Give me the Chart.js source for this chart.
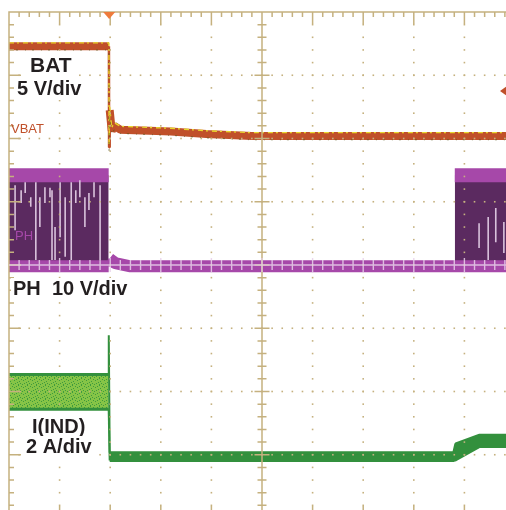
<!DOCTYPE html>
<html>
<head>
<meta charset="utf-8">
<script src="https://cdn.jsdelivr.net/npm/chart.js@4.4.1/dist/chart.umd.min.js"></script>
<style>
  html, body { margin: 0; padding: 0; background: #fff; }
  #wrap { position: relative; width: 506px; height: 510px; overflow: hidden; }
  #scope { position: absolute; left: 0; top: 0; }
</style>
</head>
<body>
<div id="wrap"><canvas id="scope" width="520" height="522"></canvas></div>
<script>
// Scope capture: VBAT, PH and I(IND). Time and amplitude are kept in screen
// divisions (10 x 8, centre = 0) as read off the capture.

// --- VBAT (ch1, 5 V/div)
const vbatT = [0, 1.975, 1.978, 1.99, 2.03, 2.08, 2.2, 3.2, 3.9, 4.8, 10];
const vbatV = [3.46, 3.46, 1.86, 2.45, 2.12, 2.2, 2.14, 2.11, 2.07, 2.04, 2.04];

// --- PH (ch2, 10 V/div): switching bursts drawn as an envelope
const phBurstStart = [0, 8.81];
const phBurstEnd = [1.97, 10];
const phHighLevel = 1.42;
const phLowLevel = -0.02;
const phBaseT = [0, 1.97, 1.985, 2.1, 2.4, 8.81, 10];
const phBaseV = [-0.02, -0.02, 0.1, 0.03, -0.02, -0.02, -0.02];
// bright streaks inside the bursts
const phStreakX = [0.12, 0.24, 0.32, 0.43, 0.53, 0.61, 0.71, 0.81, 0.85, 0.91, 1.01, 1.11, 1.23, 1.32, 1.40, 1.50, 1.58, 1.68, 1.80, 9.29, 9.47, 9.62, 9.78];
const phStreakTop = [1.26, 1.18, 1.31, 1.07, 1.31, 1.07, 1.23, 1.22, 1.18, 0.60, 1.31, 1.07, 1.31, 1.18, 1.34, 1.07, 1.14, 1.31, 1.26, 0.66, 0.76, 0.90, 0.68];
const phStreakBot = [0.55, 0.98, 1.14, 0.92, 0.08, 0.60, 0.98, 1.07, 0.08, 0.08, 0.44, 0.13, 0.08, 0.98, 1.07, 0.60, 0.87, 1.07, 0.08, 0.27, 0.08, 0.36, 0.19];

// --- I(IND) (ch4, 2 A/div): ripple peak and valley
const indT = [0, 1.97, 1.972, 1.99, 8.79, 8.83, 9.3, 10];
const indPeak = [-1.73, -1.73, -1.11, -2.97, -2.97, -2.83, -2.69, -2.69];
const indValley = [-2.28, -2.28, -2.28, -3.09, -3.09, -3.08, -2.87, -2.87];

const TAN = "#c5b17f";
const ORANGE = "#c0502a";
const PURPLE_LIGHT = "#a648a9";
const PURPLE_DARK = "#5b2a60";
const GREEN_DARK = "#33903d";

const pts = (xs, ys) => xs.map((x, i) => ({ x, y: ys[i] }));

const phEnvelope = [];
phBurstStart.forEach((s, i) => {
  phEnvelope.push({ x: s, y: phHighLevel }, { x: phBurstEnd[i], y: phHighLevel }, { x: phBurstEnd[i], y: null });
});
const phStreaks = [];
phStreakX.forEach((x, i) => {
  phStreaks.push({ x, y: phStreakTop[i] }, { x, y: phStreakBot[i] }, { x, y: null });
});

function makePattern(base, dark, dots) {
  const c = document.createElement("canvas");
  c.width = 9; c.height = 7;
  const g = c.getContext("2d");
  g.fillStyle = base; g.fillRect(0, 0, 9, 7);
  g.fillStyle = dark;
  dots.forEach(([x, y]) => g.fillRect(x, y, 1, 1));
  return g.createPattern(c, "repeat");
}
const greenNoise = makePattern("#86c447", "#3f9a3c", [[0,0],[3,1],[7,1],[1,3],[5,2],[8,4],[2,5],[6,5],[4,6],[0,6]]);

const steep = (c) => Math.abs(c.p1.parsed.x - c.p0.parsed.x) < 0.03;

const shiftPlugin = {
  id: "shiftY",
  beforeDatasetDraw(chart, args) {
    const s = chart.data.datasets[args.index].shiftY;
    if (s) { chart.ctx.save(); chart.ctx.translate(0, s); }
  },
  afterDatasetDraw(chart, args) {
    if (chart.data.datasets[args.index].shiftY) chart.ctx.restore();
  },
};

const gridPlugin = {
  id: "scopeGrid",
  afterDatasetsDraw(chart) {
    const { ctx, scales: { x, y } } = chart;
    const X = (v) => x.getPixelForValue(v);
    const Y = (v) => y.getPixelForValue(v);
    ctx.save();
    ctx.fillStyle = TAN;
    // dotted major lines
    for (let i = 1; i < 10; i++) {
      if (i === 5) continue;
      for (let j = 1; j < 40; j++) ctx.fillRect(X(i) - 0.8, Y(-4 + j * 0.2) - 0.8, 1.6, 1.6);
    }
    for (let j = -3; j <= 3; j++) {
      if (j === 0) continue;
      for (let i = 1; i < 50; i++) ctx.fillRect(X(i * 0.2) - 0.8, Y(j) - 0.8, 1.6, 1.6);
    }
    ctx.strokeStyle = TAN;
    ctx.lineWidth = 1.5;
    ctx.beginPath();
    // borders
    ctx.moveTo(X(0), Y(-4)); ctx.lineTo(X(0), Y(4)); ctx.lineTo(X(10), Y(4));
    ctx.moveTo(X(0), Y(-4)); ctx.lineTo(X(10), Y(-4));
    // top / bottom border ticks
    for (let k = 1; k < 50; k++) {
      const len = k % 5 === 0 ? 12 : 5;
      ctx.moveTo(X(k * 0.2), Y(4)); ctx.lineTo(X(k * 0.2), Y(4) + len);
      ctx.moveTo(X(k * 0.2), Y(-4)); ctx.lineTo(X(k * 0.2), Y(-4) - len);
    }
    // left border ticks
    for (let k = 1; k < 40; k++) {
      const len = k % 5 === 0 ? 12 : 5;
      ctx.moveTo(X(0), Y(-4 + k * 0.2)); ctx.lineTo(X(0) + len, Y(-4 + k * 0.2));
    }
    // centre vertical axis
    ctx.moveTo(X(5), Y(4)); ctx.lineTo(X(5), Y(-4));
    for (let k = 1; k < 40; k++) {
      const len = k % 5 === 0 ? 7.5 : 4.5;
      ctx.moveTo(X(5) - len, Y(-4 + k * 0.2)); ctx.lineTo(X(5) + len, Y(-4 + k * 0.2));
    }
    ctx.stroke();
    // centre horizontal axis, shows pale over the PH trace
    ctx.strokeStyle = "rgba(232,208,234,0.85)";
    ctx.lineWidth = 1.4;
    ctx.beginPath();
    ctx.moveTo(X(0), Y(0)); ctx.lineTo(X(10), Y(0));
    for (let k = 1; k < 50; k++) {
      const len = k % 5 === 0 ? 7 : 5;
      ctx.moveTo(X(k * 0.2), Y(0) - len); ctx.lineTo(X(k * 0.2), Y(0) + len);
    }
    ctx.stroke();
    ctx.restore();
  },
};

const labelPlugin = {
  id: "labels",
  afterDraw(chart) {
    const { ctx, scales: { x, y } } = chart;
    ctx.save();
    ctx.textBaseline = "alphabetic";
    const boxed = (text, px, py, font) => {
      ctx.font = font;
      const w = ctx.measureText(text).width;
      ctx.fillStyle = "#fff";
      ctx.fillRect(px - 2, py - 17, w + 4, 22);
      ctx.fillStyle = "#231f20";
      ctx.fillText(text, px, py);
    };
    const bold = 'bold 20px "Liberation Sans", Arial, sans-serif';
    boxed("BAT", 30, 72, 'bold 21px "Liberation Sans", Arial, sans-serif');
    boxed("5 V/div", 17, 95, bold);
    boxed("PH  10 V/div", 13, 295, bold);
    boxed("I(IND)", 32, 433, bold);
    boxed("2 A/div", 26, 453, bold);

    ctx.font = '13px "Liberation Sans Narrow", "Liberation Sans", sans-serif';
    ctx.fillStyle = ORANGE;
    ctx.fillText("VBAT", 11, 133);
    ctx.fillStyle = PURPLE_LIGHT;
    ctx.fillText("PH", 15, 240);

    // trigger position marker (top) and trigger level marker (right)
    const tx = x.getPixelForValue(1.98), ty = y.getPixelForValue(4);
    ctx.fillStyle = "#ee7b3c";
    ctx.beginPath();
    ctx.moveTo(tx - 6, ty); ctx.lineTo(tx + 6, ty); ctx.lineTo(tx, ty + 7); ctx.closePath();
    ctx.fill();
    const ly = y.getPixelForValue(2.75);
    ctx.fillStyle = ORANGE;
    ctx.beginPath();
    ctx.moveTo(500, ly); ctx.lineTo(507, ly - 5); ctx.lineTo(507, ly + 5); ctx.closePath();
    ctx.fill();
    ctx.restore();
  },
};

const common = { pointRadius: 0, tension: 0, spanGaps: false, borderJoinStyle: "bevel" };

new Chart(document.getElementById("scope"), {
  type: "line",
  data: {
    datasets: [
      { ...common, label: "PH burst", order: 9, data: phEnvelope, borderColor: PURPLE_LIGHT, borderWidth: 14,
        backgroundColor: PURPLE_DARK, fill: { value: phLowLevel } },
      { ...common, label: "PH", order: 8, data: pts(phBaseT, phBaseV), borderColor: PURPLE_LIGHT, borderWidth: 12,
        segment: { borderWidth: (c) => (steep(c) ? 3 : 12) } },
      { ...common, label: "PH streaks", order: 7, data: phStreaks, borderColor: "#d9c2dc", borderWidth: 1.6, fill: false },
      { ...common, label: "I(IND) peak", order: 6, data: pts(indT, indPeak), borderColor: GREEN_DARK, borderWidth: 3,
        fill: "+1", segment: {
          borderWidth: (c) => (steep(c) ? 2 : 3),
          backgroundColor: (c) => (c.p0.parsed.x < 1.97 ? greenNoise : GREEN_DARK),
        } },
      { ...common, label: "I(IND) valley", order: 5, data: pts(indT, indValley), borderColor: GREEN_DARK, borderWidth: 3,
        fill: false, segment: { borderWidth: (c) => (steep(c) ? 2 : 3) } },
      { ...common, label: "VBAT", order: 4, data: pts(vbatT, vbatV), borderColor: ORANGE, borderWidth: 8,
        segment: { borderWidth: (c) => (steep(c) ? 2.5 : 8) } },
      { ...common, label: "VBAT hi", order: 3, data: pts(vbatT, vbatV), borderColor: "#e8d62c", borderWidth: 1.4,
        borderDash: [5, 3, 2, 4], shiftY: -3.3 },
      { ...common, label: "VBAT lo", order: 2, data: pts(vbatT, vbatV), borderColor: "rgba(90,90,30,0.7)", borderWidth: 1,
        borderDash: [1, 6, 2, 7], shiftY: 3.8 },
    ],
  },
  options: {
    responsive: false,
    animation: false,
    layout: { padding: { left: 9, top: 12, right: 5, bottom: 4 } },
    plugins: { legend: { display: false }, tooltip: { enabled: false } },
    scales: {
      x: { type: "linear", min: 0, max: 10, display: false },
      y: { type: "linear", min: -4, max: 4, display: false },
    },
  },
  plugins: [shiftPlugin, gridPlugin, labelPlugin],
});
</script>
</body>
</html>
